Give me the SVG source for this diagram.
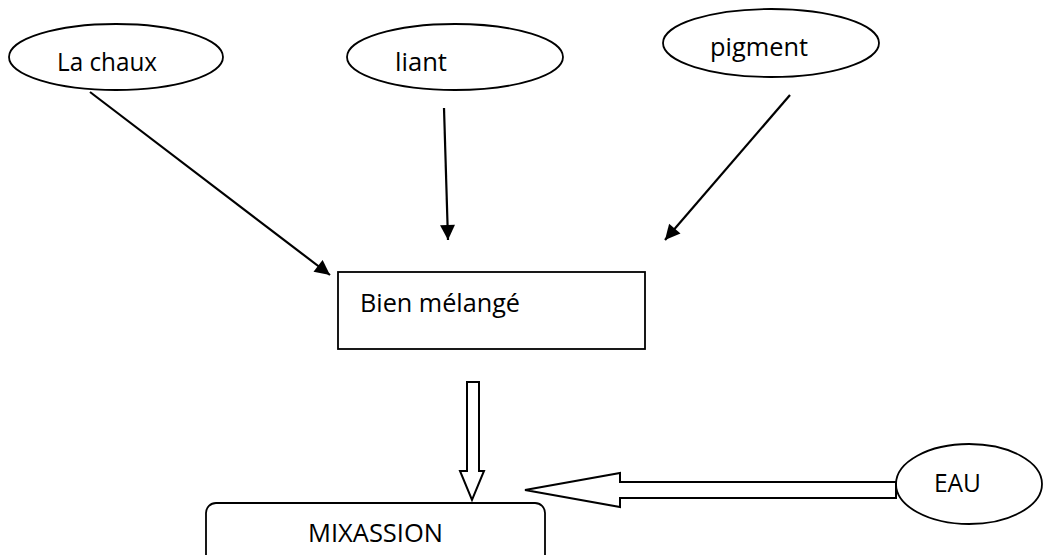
<svg xmlns="http://www.w3.org/2000/svg" width="1043" height="555" viewBox="0 0 1043 555">
  <style>
    .shape { fill: #ffffff; stroke: #000000; stroke-width: 1.8; }
    .label { font-family: "Open Sans", "Liberation Sans", sans-serif; font-size: 25px; fill: #000000; }
    .line { stroke: #000000; stroke-width: 2.2; fill: none; }
    .block { fill: #ffffff; stroke: #000000; stroke-width: 2; stroke-linejoin: miter; }
  </style>
  <defs>
    <marker id="head" viewBox="0 0 10 10" refX="10" refY="5" markerWidth="16" markerHeight="15" markerUnits="userSpaceOnUse" orient="auto">
      <path d="M0,0 L10,5 L0,10 Z" fill="#000000"/>
    </marker>
  </defs>
  <rect width="1043" height="555" fill="#ffffff"/>

  <g id="node-chaux">
    <ellipse class="shape" cx="116" cy="57" rx="107" ry="33"/>
    <text class="label" x="57" y="71" textLength="100" lengthAdjust="spacingAndGlyphs">La chaux</text>
  </g>
  <g id="node-liant">
    <ellipse class="shape" cx="455" cy="57" rx="108" ry="33"/>
    <text class="label" x="395" y="71" textLength="52" lengthAdjust="spacingAndGlyphs">liant</text>
  </g>
  <g id="node-pigment">
    <ellipse class="shape" cx="771" cy="43" rx="108" ry="34"/>
    <text class="label" x="710" y="56" textLength="98" lengthAdjust="spacingAndGlyphs">pigment</text>
  </g>
  <g id="node-melange">
    <rect class="shape" x="338" y="272" width="307" height="77" stroke-width="2"/>
    <text class="label" x="360" y="312" textLength="160" lengthAdjust="spacingAndGlyphs">Bien mélangé</text>
  </g>
  <g id="node-mixassion">
    <rect class="shape" x="206" y="503" width="339" height="80" rx="10" ry="10" stroke-width="2"/>
    <text class="label" x="308" y="542" textLength="135" lengthAdjust="spacingAndGlyphs">MIXASSION</text>
  </g>
  <g id="node-eau">
    <ellipse class="shape" cx="969" cy="484" rx="73" ry="40"/>
    <text class="label" x="934" y="492" textLength="47" lengthAdjust="spacingAndGlyphs">EAU</text>
  </g>

  <g id="connectors">
    <line class="line" x1="90" y1="92" x2="330" y2="275" marker-end="url(#head)"/>
    <line class="line" x1="444" y1="108" x2="448" y2="240" marker-end="url(#head)"/>
    <line class="line" x1="790" y1="95" x2="665" y2="240" marker-end="url(#head)"/>
    <!-- hollow block arrow down into MIXASSION -->
    <path class="block" d="M467,382 L479,382 L479,471 L484,471 L472,500 L460,471 L467,471 Z"/>
    <!-- hollow block arrow from EAU -->
    <path class="block" d="M896,482 L620,482 L620,473 L525,490 L620,507 L620,498 L896,498 Z"/>
  </g>
</svg>
